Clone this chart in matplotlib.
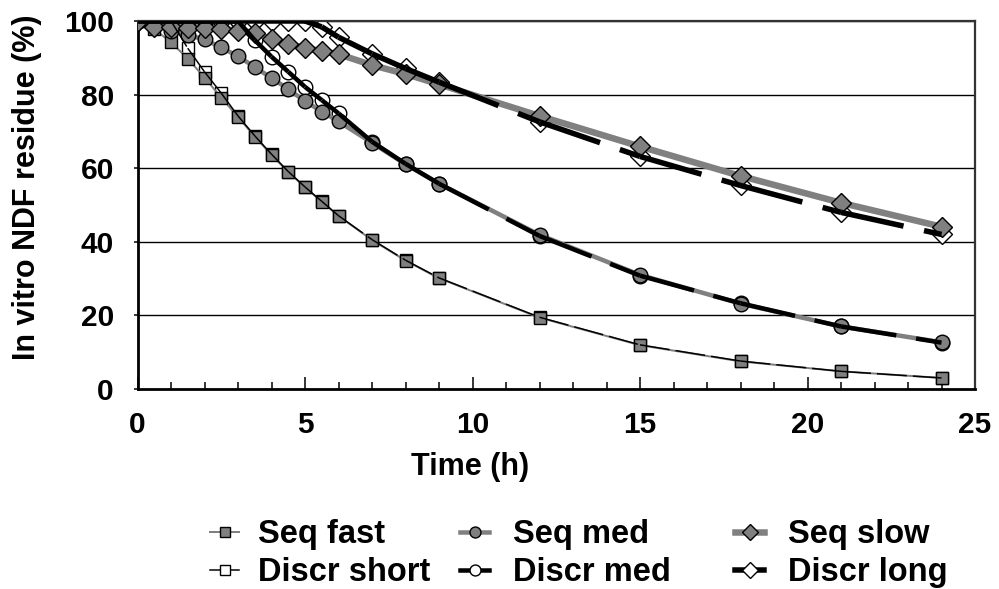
import matplotlib
matplotlib.use("Agg")
import matplotlib.pyplot as plt
from matplotlib.lines import Line2D

plt.rcParams['font.family'] = ['Liberation Sans', 'DejaVu Sans']
plt.rcParams['font.weight'] = 'bold'
plt.rcParams['lines.scale_dashes'] = False

# ---- data ----
time_h = [0, 0.5, 1, 1.5, 2, 2.5, 3, 3.5, 4, 4.5, 5, 5.5, 6, 7, 8, 9, 12, 15, 18, 21, 24]

seq_fast = [100, 97.8, 94.2, 89.8, 84.6, 79.2, 73.9, 68.6, 63.6, 59.0, 54.8, 50.9, 47.0,
            40.5, 34.9, 30.1, 19.4, 11.9, 7.5, 4.8, 3.0]
seq_med = [100, 99.0, 97.2, 96.2, 95.0, 92.8, 90.4, 87.5, 84.5, 81.5, 78.2, 75.4, 72.7,
           66.9, 61.1, 55.8, 41.9, 31.0, 23.2, 17.0, 12.7]
seq_slow = [100, 98.5, 98.3, 98.2, 98.0, 97.8, 97.4, 96.8, 95.0, 93.7, 92.7, 91.8, 91.0,
            88.0, 85.6, 82.8, 74.2, 65.9, 57.9, 50.6, 44.1]

discr_short = [100, 100, 100, 92.6, 86.2, 80.4, 74.2, 68.8, 63.8, 59.1, 54.9, 51.0, 47.1,
               40.6, 35.0, 30.2, 19.5, 12.0, 7.6, 4.8, 3.0]
discr_med = [100, 100, 100, 100, 100, 100, 100, 94.8, 90.3, 86.2, 82.1, 78.5, 74.9,
             67.2, 61.2, 55.8, 41.6, 30.8, 23.3, 17.0, 12.6]
discr_long = [100, 100, 100, 100, 100, 100, 100, 100, 100, 100, 100, 98.4, 95.6,
              91.1, 87.1, 83.4, 72.6, 63.2, 55.3, 48.0, 42.0]

series_names = ['Seq fast', 'Seq med', 'Seq slow', 'Discr short', 'Discr med', 'Discr long']
x_ticks = [0, 5, 10, 15, 20, 25]
y_ticks = [0, 20, 40, 60, 80, 100]

GRAY = '#808080'
PX = 0.72  # points per pixel at dpi 100

fig = plt.figure(figsize=(9.99, 5.89), dpi=100)
ax = fig.add_axes([137.5 / 999, 1 - 389 / 589, (975 - 137.5) / 999, (389 - 21) / 589])

# (values, line color, line width px, marker, marker size, marker face, dash on/off px)
styles = [
    (seq_fast, GRAY, 2.0, 's', 9.0, GRAY, None),
    (seq_med, GRAY, 4.5, 'o', 10.5, GRAY, None),
    (seq_slow, GRAY, 6.5, 'D', 10.5, GRAY, None),
    (discr_short, 'black', 1.5, 's', 9.0, 'white', (30, 6)),
    (discr_med, 'black', 4.5, 'o', 10.5, 'white', (56, 20)),
    (discr_long, 'black', 5.5, 'D', 10.5, 'white', (64, 21)),
]

handles = []
for k, (vals, col, lwpx, mk, ms, mfc, dash) in enumerate(styles):
    lw = lwpx * PX
    if dash is None:
        ax.plot(time_h, vals, color=col, lw=lw, solid_joinstyle='round',
                solid_capstyle='round', zorder=3 + 0.1 * k)
        ax.plot(time_h, vals, linestyle='none', marker=mk, ms=ms, mfc=mfc, mec='black',
                mew=1.0, zorder=4 + 0.1 * k)
    else:
        on, off = dash
        for i in range(len(time_h) - 1):
            ax.plot(time_h[i:i + 2], vals[i:i + 2], color=col, lw=lw, zorder=5 + 0.1 * k,
                    dash_capstyle='butt', linestyle=(0, (on * PX, off * PX)))
        ax.plot(time_h, vals, linestyle='none', marker=mk, ms=ms, mfc=mfc, mec='black',
                mew=1.0, zorder=2 + 0.1 * k)
    handles.append(Line2D([], [], color=col, lw=lw, marker=mk, ms=ms * 0.75, mfc=mfc,
                          mec='black', mew=1.0))

ax.set_xlim(0, 25)
ax.set_ylim(0, 100)
ax.set_xticks(x_ticks)
ax.set_xticks(range(0, 26), minor=True)
ax.set_yticks(y_ticks)
ax.set_xticklabels([str(v) for v in x_ticks])
ax.set_yticklabels([str(v) for v in y_ticks])
ax.tick_params(axis='x', which='major', direction='in', length=8.5, width=1.1,
               labelsize=21.5, pad=16)
ax.tick_params(axis='x', which='minor', direction='in', length=5, width=1.1)
ax.tick_params(axis='y', which='major', direction='out', length=3, width=1.1,
               labelsize=21.5, pad=14)
for lab in ax.get_xticklabels() + ax.get_yticklabels():
    lab.set_fontweight('bold')

for v in y_ticks[1:]:
    ax.axhline(v, color='black', lw=1.0, zorder=1)
for s in ['left', 'bottom']:
    ax.spines[s].set_linewidth(2.0)
for s in ['right', 'top']:
    ax.spines[s].set_linewidth(1.6)
    ax.spines[s].set_color('#333333')

fig.text(470 / 999, 1 - 467 / 589, 'Time (h)', ha='center', va='center',
         fontsize=22, fontweight='bold')
fig.text(27 / 999, 1 - 187 / 589, 'In vitro NDF residue (%)', ha='center', va='center',
         rotation=90, fontsize=22, fontweight='bold')

# legend: three columns (seq row on top, discr row below)
LEG_FS = 23.5
col_x = [210, 460, 735]
col_pad = [0.58, 0.74, 0.74]
for c in range(3):
    leg = fig.legend([handles[c], handles[c + 3]], [series_names[c], series_names[c + 3]],
                     loc='center left', bbox_to_anchor=(col_x[c] / 999, 1 - 553.5 / 589),
                     frameon=False, fontsize=LEG_FS, handlelength=0.89,
                     handletextpad=col_pad[c], labelspacing=0.21, borderpad=0,
                     borderaxespad=0)
    for t in leg.get_texts():
        t.set_fontweight('bold')

fig.savefig('out.png', dpi=100)
